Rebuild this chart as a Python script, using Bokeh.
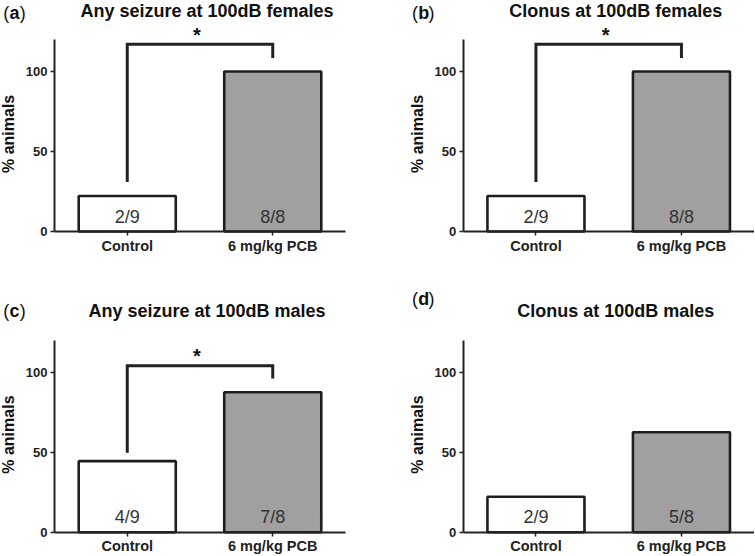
from math import pi
from bokeh.plotting import figure
from bokeh.models import Range1d, FixedTicker, Label
from bokeh.layouts import column, row
from bokeh.embed import file_html
from bokeh.resources import INLINE
from bokeh.core.properties import value

# ---------------- data ----------------
categories = ["Control", "6 mg/kg PCB"]
bar_colors = ["#ffffff", "#a0a0a0"]
y_ticks = [0, 50, 100]

panel_letters = ["a", "b", "c", "d"]
titles = ["Any seizure at 100dB females", "Clonus at 100dB females",
          "Any seizure at 100dB males", "Clonus at 100dB males"]
y_label = "% animals"

pct_a = [22.2, 100.0]
pct_b = [22.2, 100.0]
pct_c = [44.4, 87.5]
pct_d = [22.2, 62.5]

counts_a = ["2/9", "8/8"]
counts_b = ["2/9", "8/8"]
counts_c = ["4/9", "7/8"]
counts_d = ["2/9", "5/8"]

# significance brackets: [bracket height, left arm end, right arm end]
bracket_a = [117, 31, 108.5]
bracket_b = [117, 31, 108.5]
bracket_c = [104, 49.6, 96]
bracket_d = None

# ---------------- layout ----------------
FONT = value("Liberation Sans")
AX = "#222222"
SX = 145.5   # px per category step
SY = 1.6     # px per percent


def make_panel(letter, title, pct, counts, bracket, W, H, axis_px, base_px, letter_y):
    xs = [i + 1 for i in range(len(categories))]
    x_lo = 0.5 - axis_px / SX
    x_hi = x_lo + W / SX
    y_hi = base_px / SY
    y_lo = -(H - base_px) / SY
    p = figure(width=W, height=H, x_range=Range1d(x_lo, x_hi), y_range=Range1d(y_lo, y_hi),
               output_backend="svg", toolbar_location=None,
               min_border_left=0, min_border_right=0, min_border_top=0, min_border_bottom=0)
    p.outline_line_color = None
    p.grid.visible = False
    p.background_fill_color = "white"
    p.border_fill_color = "white"

    # x axis
    p.xaxis.fixed_location = 0
    p.xaxis.bounds = (0.5, len(categories) + 0.5)
    p.xaxis.ticker = FixedTicker(ticks=xs)
    p.xaxis.major_label_overrides = {x: c for x, c in zip(xs, categories)}
    p.xaxis.major_label_text_font_size = "14.5px"
    p.xaxis.major_label_standoff = 2
    # y axis
    p.yaxis.fixed_location = 0.5
    p.yaxis.bounds = (0, 120)
    p.yaxis.ticker = FixedTicker(ticks=y_ticks)
    p.yaxis.major_label_text_font_size = "13px"
    p.yaxis.major_label_standoff = 3
    for ax in (p.xaxis, p.yaxis):
        ax.major_label_text_font = "Liberation Sans"
        ax.major_label_text_font_style = "bold"
        ax.major_label_text_color = AX
        ax.axis_line_width = 2
        ax.axis_line_color = AX
        ax.major_tick_line_color = AX
        ax.major_tick_line_width = 1.5
        ax.major_tick_out = 4
        ax.major_tick_in = 0
        ax.minor_tick_out = 0
        ax.minor_tick_in = 0

    p.vbar(x=xs, top=pct, bottom=0, width=0.667, fill_color=bar_colors,
           line_color="#1e1e1e", line_width=2.6)
    p.text(x=xs, y=[9.2] * len(xs), text=counts, text_align="center",
           text_baseline="middle", text_font=FONT, text_font_size="18px",
           text_color="#333333")

    if bracket is not None:
        top, left_end, right_end = bracket
        p.line(x=[xs[0], xs[0], xs[1], xs[1]], y=[left_end, top, top, right_end],
               line_width=3, line_color=AX, line_join="miter", line_cap="butt")
        p.add_layout(Label(x=(xs[0] + xs[1]) / 2, x_offset=-3, y=top + 6, text="*",
                           text_align="center", text_baseline="middle",
                           text_font="Liberation Sans", text_font_style="bold",
                           text_font_size="20px", text_color="#111111"))

    # title
    p.add_layout(Label(x=(len(categories) + 1) / 2, x_offset=7, y=138, text=title,
                       text_align="center", text_baseline="middle",
                       text_font="Liberation Sans", text_font_style="bold",
                       text_font_size="18px", text_color="#111111"))
    # panel letter, e.g. (a)
    for txt, off, style in (("(", -51.3, "normal"), (letter, -45, "bold"), (")", -34.7, "normal")):
        p.add_layout(Label(x=0.5, x_offset=off, y=letter_y, text=txt, text_align="left",
                           text_baseline="middle", text_font="Liberation Sans",
                           text_font_style=style, text_font_size="18px", text_color="#111111"))
    # y axis title
    p.text(x=[0.5], y=[61], text=[y_label], x_offset=-46, angle=pi / 2,
           text_align="center", text_baseline="middle", text_font=FONT,
           text_font_style="bold", text_font_size="16px", text_color="#111111")
    return p


pa = make_panel(panel_letters[0], titles[0], pct_a, counts_a, bracket_a, 377, 278, 54, 231, 136.3)
pb = make_panel(panel_letters[1], titles[1], pct_b, counts_b, bracket_b, 377, 278, 85.7, 231, 136.3)
pc = make_panel(panel_letters[2], titles[2], pct_c, counts_c, bracket_c, 377, 277, 54, 253.7, 138)
pd = make_panel(panel_letters[3], titles[3], pct_d, counts_d, bracket_d, 377, 277, 85.7, 253.7, 145.9)

layout = column(row(pa, pb), row(pc, pd))
open("out.html", "w").write(file_html(layout, INLINE))
